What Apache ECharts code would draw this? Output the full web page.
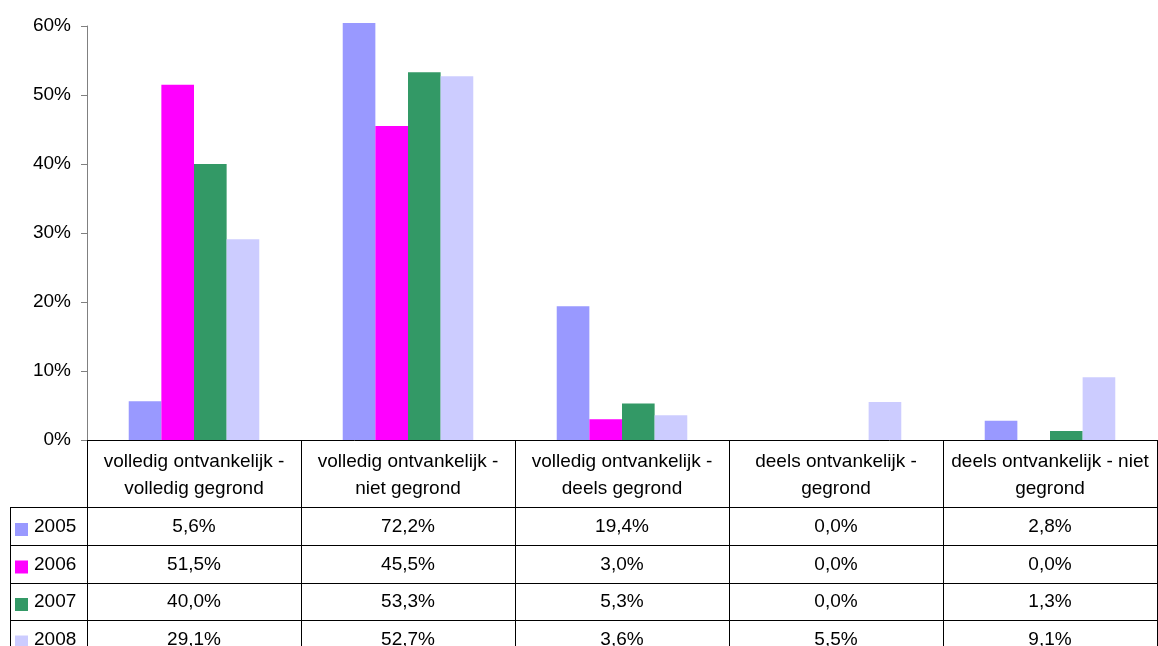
<!DOCTYPE html>
<html><head><meta charset="utf-8">
<script src="https://cdn.jsdelivr.net/npm/echarts/dist/echarts.min.js"></script>
<style>html,body{margin:0;padding:0;background:#fff}#c{width:1158px;height:646px}</style>
</head><body><div id="c"></div>
<script>
const categories = ['volledig ontvankelijk -\nvolledig gegrond', 'volledig ontvankelijk -\nniet gegrond', 'volledig ontvankelijk -\ndeels gegrond', 'deels ontvankelijk -\ngegrond', 'deels ontvankelijk - niet\ngegrond'];
const years = ['2005', '2006', '2007', '2008'];
const v2005 = [5.6, 72.2, 19.4, 0.0, 2.8];
const v2006 = [51.5, 45.5, 3.0, 0.0, 0.0];
const v2007 = [40.0, 53.3, 5.3, 0.0, 1.3];
const v2008 = [29.1, 52.7, 3.6, 5.5, 9.1];
const yMin = 0, yMax = 60, yStep = 10;

const seriesValues = [v2005, v2006, v2007, v2008];
const colors = ['#9999FF', '#FF00FF', '#339966', '#CCCCFF'];
const FONT = '"Liberation Sans", Arial, sans-serif';
const FS = 19;

const chart = echarts.init(document.getElementById('c'), null, {renderer: 'canvas'});
const gridBottom = 206, gridTopAxis = 26, gridTopBars = 23;
const plotH = 646 - gridBottom;
const hiddenMax = yMax * (plotH - gridTopBars) / (plotH - gridTopAxis);

chart.setOption({
  animation: false,
  backgroundColor: '#fff',
  grid: [
    {left: 87, right: 1, top: gridTopAxis, bottom: gridBottom, containLabel: false, outerBoundsMode: 'none'},
    {left: 87, right: 1, top: gridTopBars, bottom: gridBottom, containLabel: false, outerBoundsMode: 'none'}
  ],
  xAxis: [
    {
      type: 'category', gridIndex: 0, data: categories, boundaryGap: true,
      axisLine: {show: true, lineStyle: {color: '#000', width: 1}},
      axisTick: {show: true, interval: 0, alignWithLabel: false, inside: false, length: gridBottom, lineStyle: {color: '#000', width: 1}},
      axisLabel: {interval: 0, margin: 9, fontSize: FS, lineHeight: 26.5, color: '#000', fontFamily: FONT},
      splitLine: {show: false}
    },
    {type: 'category', gridIndex: 1, data: categories, show: false}
  ],
  yAxis: [
    {
      type: 'value', gridIndex: 0, min: yMin, max: yMax, interval: yStep,
      axisLine: {show: true, lineStyle: {color: '#808080', width: 1}},
      axisTick: {show: true, length: 6, lineStyle: {color: '#808080'}},
      axisLabel: {margin: 16, fontSize: FS, color: '#000', fontFamily: FONT, padding: [3, 0, 0, 0], formatter: v => v + '%'},
      splitLine: {show: false}
    },
    {type: 'value', gridIndex: 1, min: yMin, max: hiddenMax, show: false, splitLine: {show: false}}
  ],
  series: seriesValues.map((vals, i) => ({
    type: 'bar', name: years[i], xAxisIndex: 1, yAxisIndex: 1,
    data: vals, barGap: '0%', barCategoryGap: '39%', clip: true,
    itemStyle: {color: colors[i]}
  }))
});

// data table below the plot
const rowLines = [507, 545, 583, 620];
const rowCenters = [527, 564.5, 602, 639.5];
const fmt = v => v.toFixed(1).replace('.', ',') + '%';
const g = [];
rowLines.forEach(y => g.push({type: 'line', shape: {x1: 10, y1: y + 0.5, x2: 1158, y2: y + 0.5}, style: {stroke: '#000', lineWidth: 1}, silent: true}));
g.push({type: 'line', shape: {x1: 10.5, y1: 507, x2: 10.5, y2: 646}, style: {stroke: '#000', lineWidth: 1}, silent: true});
years.forEach((yr, r) => {
  const cy = rowCenters[r];
  g.push({type: 'rect', shape: {x: 15, y: cy - 4, width: 13, height: 13}, style: {fill: colors[r]}, silent: true});
  g.push({type: 'text', style: {text: yr, x: 34, y: cy, align: 'left', verticalAlign: 'middle', font: FS + 'px ' + FONT, fill: '#000'}, silent: true});
  seriesValues[r].forEach((v, c) => {
    const x = chart.convertToPixel({xAxisIndex: 0}, c);
    g.push({type: 'text', style: {text: fmt(v), x: x, y: cy, align: 'center', verticalAlign: 'middle', font: FS + 'px ' + FONT, fill: '#000'}, silent: true});
  });
});
chart.setOption({graphic: g});
</script></body></html>
